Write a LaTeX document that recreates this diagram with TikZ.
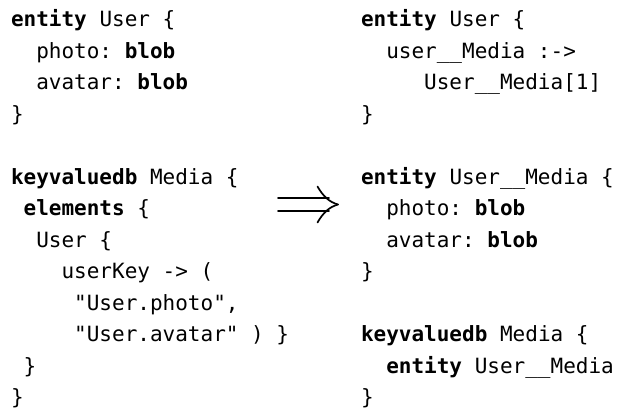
\documentclass[tikz,border=0pt]{standalone}
\usepackage{fontspec}
\setmonofont{DejaVu Sans Mono}
\newcommand{\kw}[1]{\textbf{#1}}
\newcommand{\ind}[1]{\hspace*{#1\dimexpr 0.602em\relax}}
\begin{document}
\begin{tikzpicture}[x=1pt,y=-1pt,
  code/.style={anchor=base west,inner sep=0pt,outer sep=0pt,
    font=\ttfamily\fontsize{21}{31}\selectfont},
  arr/.style={line width=1.7pt,line cap=round}]
\useasboundingbox (0,0) rectangle (619,415);
\def\lx{11}
\def\rx{361}
\def\py{31.5}
% left column
\node[code] (l1) at (\lx,26.5+0*\py) {\kw{entity} User \{};
\node[code] (l2) at (\lx,26.5+1*\py) {\ind{2}photo: \kw{blob}};
\node[code] (l3) at (\lx,26.5+2*\py) {\ind{2}avatar: \kw{blob}};
\node[code] (l4) at (\lx,26.5+3*\py) {\}};
\node[code] (l6) at (\lx,26.5+5*\py) {\kw{keyvaluedb} Media \{};
\node[code] (l7) at (\lx,26.5+6*\py) {\ind{1}\kw{elements} \{};
\node[code] (l8) at (\lx,26.5+7*\py) {\ind{2}User \{};
\node[code] (l9) at (\lx,26.5+8*\py) {\ind{4}userKey -> (};
\node[code] (l10) at (\lx,26.5+9*\py) {\ind{5}"User.photo",};
\node[code] (l11) at (\lx,26.5+10*\py) {\ind{5}"User.avatar" ) \}};
\node[code] (l12) at (\lx,26.5+11*\py) {\ind{1}\}};
\node[code] (l13) at (\lx,26.5+12*\py) {\}};
% right column
\node[code] (r1) at (\rx,26.5+0*\py) {\kw{entity} User \{};
\node[code] (r2) at (\rx,26.5+1*\py) {\ind{2}user\_\_Media :->};
\node[code] (r3) at (\rx,26.5+2*\py) {\ind{5}User\_\_Media[1]};
\node[code] (r4) at (\rx,26.5+3*\py) {\}};
\node[code] (r6) at (\rx,26.5+5*\py) {\kw{entity} User\_\_Media \{};
\node[code] (r7) at (\rx,26.5+6*\py) {\ind{2}photo: \kw{blob}};
\node[code] (r8) at (\rx,26.5+7*\py) {\ind{2}avatar: \kw{blob}};
\node[code] (r9) at (\rx,26.5+8*\py) {\}};
\node[code] (r11) at (\rx,26.5+10*\py) {\kw{keyvaluedb} Media \{};
\node[code] (r12) at (\rx,26.5+11*\py) {\ind{2}\kw{entity} User\_\_Media};
\node[code] (r13) at (\rx,26.5+12*\py) {\}};
% implication arrow
\coordinate (as) at (278,204.5);
\coordinate (at) at (338,204.5);
\draw[arr] (278,198) -- (329,198);
\draw[arr] (278,211) -- (329,211);
\draw[arr] (317.5,186.5) .. controls (323,196) and (329,202) .. (at);
\draw[arr] (317.5,222.5) .. controls (323,213) and (329,207) .. (at);
\end{tikzpicture}
\end{document}
